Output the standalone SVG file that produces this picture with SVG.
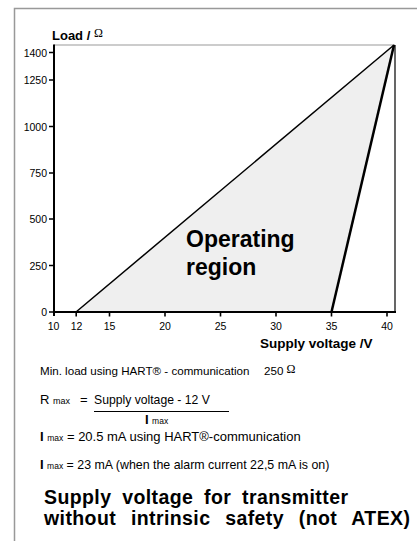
<svg xmlns="http://www.w3.org/2000/svg" width="417" height="541" viewBox="0 0 417 541">
<style>
.t{font-family:"Liberation Sans",Arial,sans-serif;fill:#000}
.tick{font-size:10.5px}
.b{font-weight:bold}
.sm{font-size:8px}
.ax{stroke:#000;fill:none}
.ttl{font-family:"Liberation Sans",Arial,sans-serif;font-weight:bold;font-size:19.5px;letter-spacing:0.4px;fill:#000}
</style>
<rect width="417" height="541" fill="#fff"/>
<g id="frame">
<path d="M14.5 541 V8.5 H417" fill="none" stroke="#999" stroke-width="1.5"/>
</g>
<g id="region">
<polygon points="76,312 394,45 331.5,312" fill="#efefef"/>
</g>
<g id="axes">
<line x1="54" y1="45" x2="395" y2="45" stroke="#999" stroke-width="1.2"/>
<line x1="395" y1="45" x2="395" y2="313" class="ax" stroke-width="1.2"/>
<line x1="54" y1="44.5" x2="54" y2="316" class="ax" stroke-width="2"/>
<line x1="53" y1="312" x2="396" y2="312" class="ax" stroke-width="2.2"/>
<g class="ax" stroke-width="1.6">
<path d="M49 52.5H54M49 80H54M49 126.5H54M49 173H54M49 219H54M49 265.5H54M49 312H54"/>
<path d="M76.2 312V316.5M109.5 312V316.5M165 312V316.5M220.5 312V316.5M276 312V316.5M331.5 312V316.5M387 312V316.5"/>
</g>
<g class="t tick" text-anchor="end">
<text x="47" y="56.5">1400</text>
<text x="47" y="84">1250</text>
<text x="47" y="130.5">1000</text>
<text x="47" y="177">750</text>
<text x="47" y="223">500</text>
<text x="47" y="269.5">250</text>
<text x="47" y="316">0</text>
</g>
<g class="t tick" text-anchor="middle">
<text x="53.5" y="330">10</text>
<text x="76.5" y="330">12</text>
<text x="109.5" y="330">15</text>
<text x="165" y="330">20</text>
<text x="220.5" y="330">25</text>
<text x="276" y="330">30</text>
<text x="331.5" y="330">35</text>
<text x="387" y="330">40</text>
</g>
<text class="t b" x="52" y="40" font-size="13">Load / <tspan font-family="'Liberation Serif',serif" font-weight="normal" font-size="12" dy="-3">Ω</tspan></text>
<text class="t b" x="260" y="348" font-size="13.5">Supply voltage /V</text>
</g>
<g id="connectors">
<line x1="76" y1="312" x2="394" y2="45" stroke="#000" stroke-width="1.5"/>
<line x1="331.5" y1="312" x2="394" y2="45" stroke="#000" stroke-width="2.5"/>
</g>
<g id="label">
<text class="t b" font-size="23" x="186" y="247">Operating</text>
<text class="t b" font-size="23" x="186" y="275">region</text>
</g>
<g id="notes">
<text class="t" font-size="11.6" x="40" y="375">Min. load using HART® - communication</text>
<text class="t" font-size="11.6" x="264" y="375">250 <tspan font-family="'Liberation Serif',serif" font-size="12" dy="-2">Ω</tspan></text>
<text class="t" font-size="13" x="40" y="404">R <tspan font-size="9">max</tspan></text>
<text class="t" font-size="13" x="80" y="404">=</text>
<text class="t" font-size="12.2" x="94" y="404">Supply voltage - 12 V</text>
<line x1="94" y1="411.5" x2="229" y2="411.5" stroke="#000" stroke-width="1"/>
<text class="t" font-size="12.5" x="145" y="424"><tspan class="b" font-size="13">I</tspan> <tspan font-size="8.5">max</tspan></text>
<text class="t" font-size="13" x="40" y="441"><tspan class="b" font-size="13">I</tspan> <tspan font-size="8.5">max</tspan> = 20.5 mA using HART®-communication</text>
<text class="t" font-size="12.4" x="40" y="469"><tspan class="b" font-size="13">I</tspan> <tspan font-size="8.5">max</tspan> = 23 mA (when the alarm current 22,5 mA is on)</text>
</g>
<g id="title">
<text class="ttl" x="44" y="504" word-spacing="5">Supply voltage for transmitter</text>
<text class="ttl" x="44" y="525" word-spacing="9">without intrinsic safety (not ATEX)</text>
</g>
</svg>
